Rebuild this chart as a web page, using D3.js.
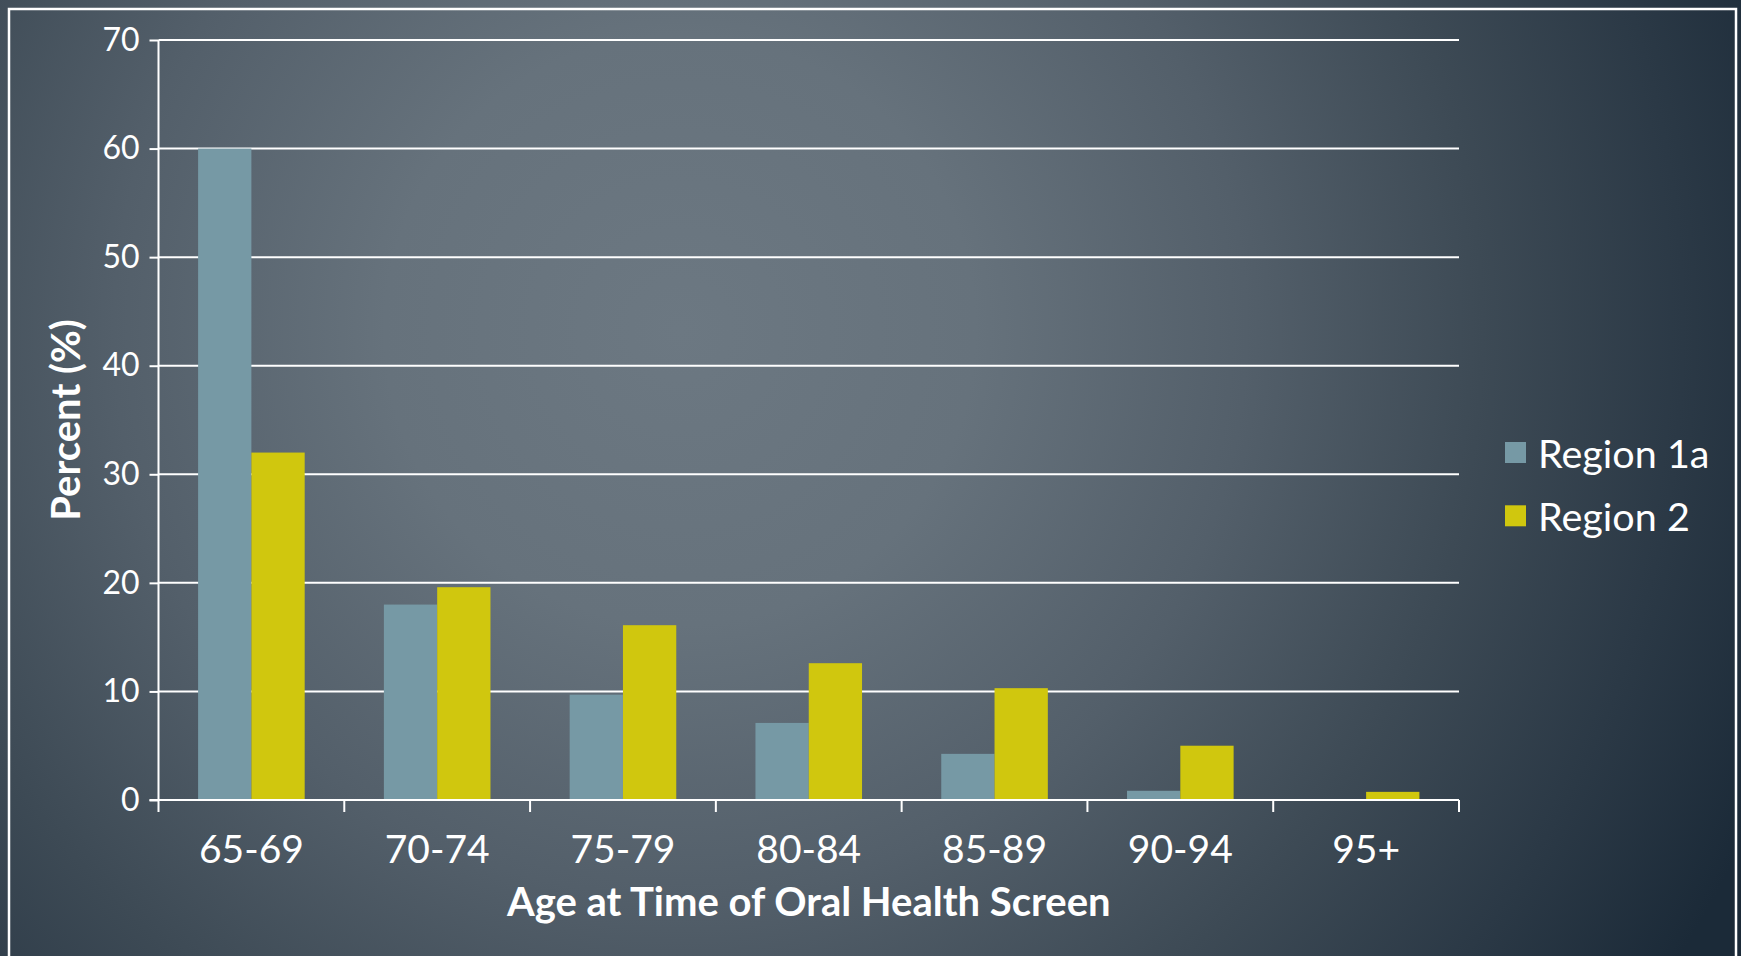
<!DOCTYPE html>
<html>
<head>
<meta charset="utf-8">
<script src="https://cdn.jsdelivr.net/npm/d3@7"></script>
<style>
  html, body { margin: 0; padding: 0; background: #1f2d3b; }
  svg { display: block; }
  text { font-family: Lato, "Open Sans", sans-serif; fill: #ffffff; }
</style>
</head>
<body>
<svg id="chart" width="1741" height="956"></svg>
<script>
// Age groups at time of the oral health screen
const ageGroups = ["65-69", "70-74", "75-79", "80-84", "85-89", "90-94", "95+"];
const seriesNames = ["Region 1a", "Region 2"];
// Percent of screened residents in each age group
const region1a = [60, 18, 9.7, 7.1, 4.25, 0.85, 0];
const region2  = [32, 19.6, 16.1, 12.6, 10.3, 5, 0.75];
const yTickValues = [0, 10, 20, 30, 40, 50, 60, 70];
const seriesColors = ["#7699a5", "#d0c70e"];

const W = 1741, H = 956;
const svg = d3.select("#chart");

// backdrop: soft slate glow fading to dark navy
const defs = svg.append("defs");
const grad = defs.append("radialGradient")
  .attr("id", "bg")
  .attr("gradientUnits", "userSpaceOnUse")
  .attr("cx", 680).attr("cy", 330).attr("r", 1180);
[[0, "#6c7882"], [0.25, "#66727c"], [0.48, "#535f6a"], [0.68, "#3d4a55"], [0.85, "#2b3946"], [1, "#1b2a38"]]
  .forEach(([o, c]) => grad.append("stop").attr("offset", o).attr("stop-color", c));
svg.append("rect").attr("width", W).attr("height", H).attr("fill", "url(#bg)");

// slide frame
svg.append("rect")
  .attr("x", 9).attr("y", 9).attr("width", 1727).attr("height", 1000)
  .attr("fill", "none").attr("stroke", "#ffffff").attr("stroke-width", 2.5);

const plot = { left: 158.5, right: 1459, top: 40, bottom: 800 };

const x = d3.scaleBand().domain(ageGroups).range([plot.left, plot.right]).padding(0);
const xs = d3.scaleBand().domain(seriesNames).range([0, x.bandwidth()])
  .paddingInner(0).paddingOuter(0.743);
const y = d3.scaleLinear().domain([0, 70]).range([plot.bottom, plot.top]);

// horizontal gridlines
svg.append("g").selectAll("line")
  .data(yTickValues.filter(v => v > 0))
  .join("line")
  .attr("x1", plot.left).attr("x2", plot.right)
  .attr("y1", d => y(d)).attr("y2", d => y(d))
  .attr("stroke", "#ffffff").attr("stroke-width", 2);

// bars
const rows = ageGroups.map((g, i) => ({ group: g, values: [region1a[i], region2[i]] }));
const groups = svg.append("g").selectAll("g")
  .data(rows).join("g")
  .attr("transform", d => `translate(${x(d.group)},0)`);
groups.selectAll("rect")
  .data(d => d.values.map((v, k) => ({ name: seriesNames[k], value: v, k })))
  .join("rect")
  .attr("x", d => xs(d.name))
  .attr("width", xs.bandwidth())
  .attr("y", d => y(d.value))
  .attr("height", d => y(0) - y(d.value))
  .attr("fill", d => seriesColors[d.k]);

// y axis
const yAxis = svg.append("g")
  .attr("transform", `translate(${plot.left},0)`)
  .call(d3.axisLeft(y).tickValues(yTickValues).tickSize(9).tickPadding(10).tickSizeOuter(0));
yAxis.select(".domain").remove();
yAxis.selectAll(".tick line").attr("stroke", "#ffffff").attr("stroke-width", 2);
yAxis.selectAll(".tick text")
  .attr("fill", "#ffffff").style("font-size", "32px").style("font-family", "Lato, sans-serif");
svg.append("line")
  .attr("x1", plot.left).attr("x2", plot.left)
  .attr("y1", plot.top).attr("y2", plot.bottom + 12)
  .attr("stroke", "#ffffff").attr("stroke-width", 2);

// x axis line with ticks at category boundaries
svg.append("line")
  .attr("x1", plot.left - 9).attr("x2", plot.right)
  .attr("y1", y(0)).attr("y2", y(0))
  .attr("stroke", "#ffffff").attr("stroke-width", 2);
const bounds = ageGroups.map(g => x(g)).concat([x.range()[1]]);
svg.append("g").selectAll("line")
  .data(bounds.slice(1))
  .join("line")
  .attr("x1", d => d).attr("x2", d => d)
  .attr("y1", y(0)).attr("y2", y(0) + 12)
  .attr("stroke", "#ffffff").attr("stroke-width", 2);

// category labels
svg.append("g").selectAll("text")
  .data(ageGroups)
  .join("text")
  .attr("x", d => x(d) + x.bandwidth() / 2)
  .attr("y", 863)
  .attr("text-anchor", "middle")
  .style("font-size", "39px")
  .text(d => d);

// axis titles
svg.append("text")
  .attr("x", (plot.left + plot.right) / 2)
  .attr("y", 916)
  .attr("text-anchor", "middle")
  .style("font-size", "40px").style("font-weight", "bold")
  .text("Age at Time of Oral Health Screen");

svg.append("text")
  .attr("transform", `translate(80,${(plot.top + plot.bottom) / 2}) rotate(-90)`)
  .attr("text-anchor", "middle")
  .style("font-size", "40px").style("font-weight", "bold")
  .text("Percent (%)");

// legend
const legend = svg.append("g").attr("transform", "translate(1505,442)");
const item = legend.selectAll("g").data(seriesNames).join("g")
  .attr("transform", (d, i) => `translate(0,${i * 63.3})`);
item.append("rect").attr("width", 21).attr("height", 21)
  .attr("fill", (d, i) => seriesColors[i]);
item.append("text").attr("x", 33).attr("y", 25.5)
  .style("font-size", "39.5px").text(d => d);
</script>
</body>
</html>
